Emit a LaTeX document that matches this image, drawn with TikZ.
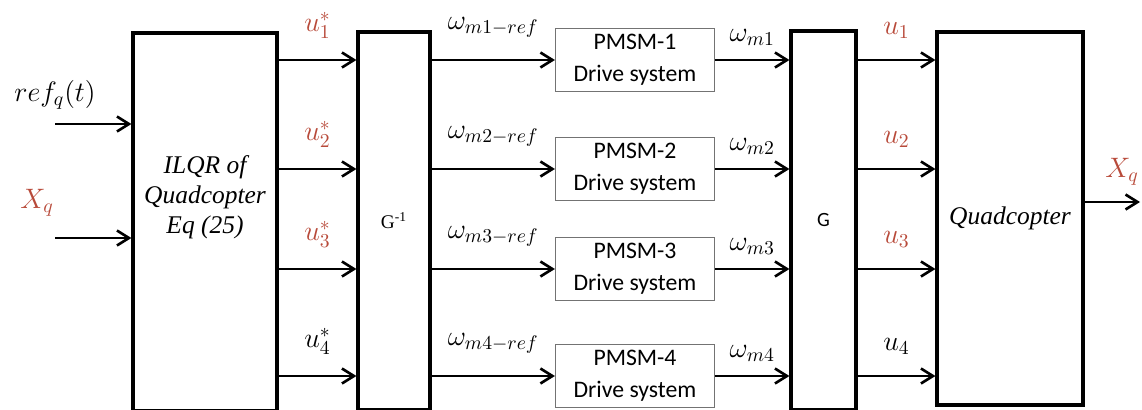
\RequirePackage{fix-cm}
\documentclass[tikz,border=0pt]{standalone}
\usepackage{fontspec}
\setmainfont{Liberation Serif}
\setsansfont{Carlito}
\usepackage{tikz}
\usetikzlibrary{arrows.meta,positioning}
\definecolor{sigred}{RGB}{184,74,58}

\begin{document}
\begin{tikzpicture}[x=0.02cm,y=-0.02cm,->,>={Straight Barb[length=2.4mm,width=3mm]},
                    line width=1.5pt,font=\fontsize{16}{18}\selectfont]

  \tikzstyle{block}=[rectangle,draw,line width=1.8pt,inner sep=0pt,align=center]
  \tikzstyle{drive}=[rectangle,draw=black!55,line width=0.7pt,minimum width=3.18cm,
                     minimum height=1.22cm,align=center,
                     font=\fontsize{13.5}{18}\selectfont\sffamily]
  \tikzstyle{lbl}=[inner sep=0pt]

  \useasboundingbox (0,0) rectangle (1142,409);

  % main blocks
  \node[block,minimum width=2.88cm,minimum height=7.56cm,
        font=\fontsize{14.5}{17}\selectfont\rmfamily\itshape] (ilqr) at (205,222) {ILQR of\\Quadcopter\\Eq (25)\\[5mm]};
  \node[block,minimum width=1.44cm,minimum height=7.56cm,
        font=\fontsize{11}{13}\selectfont\rmfamily] (ginv) at (394,221) {G\textsuperscript{-1}};
  \node[block,minimum width=1.30cm,minimum height=7.58cm,
        font=\fontsize{11.5}{13}\selectfont\sffamily] (g) at (823.5,220.5) {G};
  \node[block,minimum width=2.92cm,minimum height=7.46cm,
        font=\fontsize{14.5}{17}\selectfont\rmfamily\itshape] (quad) at (1010,218.5) {Quadcopter};

  % inputs and output
  \coordinate (inref) at (55,124);
  \coordinate (inx)   at (55,238);
  \coordinate (outx)  at (1140,202);

  \draw (inref) -- node[lbl,pos=0,above=2.6mm] {$ref_q(t)$} (ilqr.west |- inref);
  \draw (inx) -- node[lbl,pos=0,above left=4mm and 0mm,text=sigred] {$X_q$} (ilqr.west |- inx);
  \draw (quad.east |- outx) -- node[lbl,pos=1,above left=3mm and 0mm,text=sigred] {$X_q$} (outx);

  % four motor channels
  \foreach \i/\y/\c in {1/60/sigred,2/169/sigred,3/269/sigred,4/376/black} {
    \node[drive] (pmsm\i) at (635,\y) {PMSM-\i\\Drive system};
    \draw (ilqr.east |- pmsm\i) -- node[lbl,above=4mm,text=\c] {$u_{\i}^{*}$} (ginv.west |- pmsm\i);
    \draw (ginv.east |- pmsm\i) -- node[lbl,above=4.2mm] {$\omega_{m\i-ref}$} (pmsm\i.west);
    \draw (pmsm\i.east) -- node[lbl,above=2.6mm] {$\omega_{m\i}$} (g.west |- pmsm\i);
    \draw (g.east |- pmsm\i) -- node[lbl,above=4mm,text=\c] {$u_{\i}$} (quad.west |- pmsm\i);
  }
\end{tikzpicture}
\end{document}
